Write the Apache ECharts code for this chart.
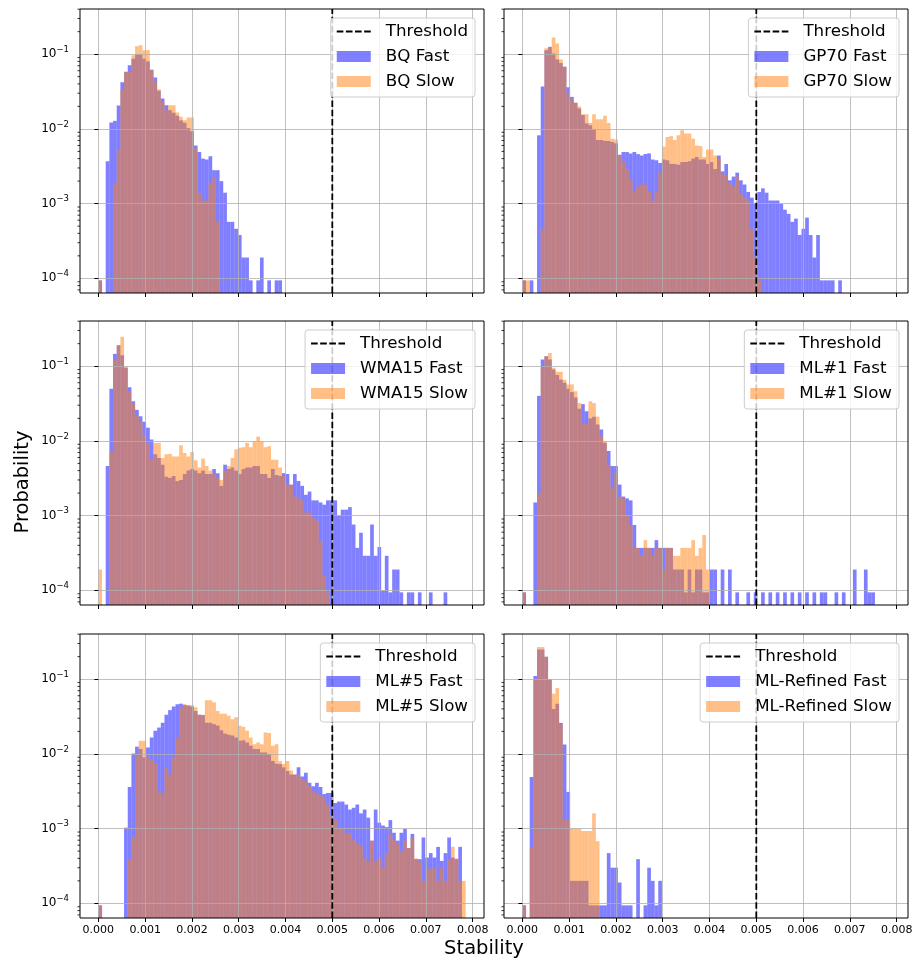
<!DOCTYPE html>
<html>
<head>
<meta charset="utf-8">
<script src="https://cdn.jsdelivr.net/npm/echarts@6/dist/echarts.min.js"></script>
<style>html,body{margin:0;padding:0;background:#fff}#chart{width:921px;height:960px}</style>
</head>
<body>
<div id="chart"></div>
<script>
// ---------- data (probability per bin, bins of width BIN_W starting at 0) ----------
const BIN_W = 0.0000785;
const THRESHOLD = 0.005;
const X_TICKS = [0, 0.001, 0.002, 0.003, 0.004, 0.005, 0.006, 0.007, 0.008];
const Y_TICKS = [1e-4, 1e-3, 1e-2, 1e-1];
const Y_MINOR = [7e-5,8e-5,9e-5,2e-4,3e-4,4e-4,5e-4,6e-4,7e-4,8e-4,9e-4,2e-3,3e-3,4e-3,5e-3,6e-3,7e-3,8e-3,9e-3,2e-2,3e-2,4e-2,5e-2,6e-2,7e-2,8e-2,9e-2,2e-1,3e-1,4e-1];
const PANEL_NAMES = ['BQ', 'GP70', 'WMA15', 'ML#1', 'ML#5', 'ML-Refined'];

const BQ_FAST = [9.4e-5,0,0.0037,0.0122,0.0128,0.0206,0.042,0.058,0.071,0.087,0.1,0.1,0.087,0.08,0.062,0.0487,0.0323,0.0255,0.0207,0.0178,0.0164,0.015,0.013,0.0121,0.0103,0.0093,0.006,0.0049,0.004,0.0039,0.0043,0.0028,0.0028,0.002,0.0014,0.00057,0.00057,0.00046,0.00038,0.00019,0.00019,9.4e-5,0,9.4e-5,0.00019,0,9.4e-5,0,9.4e-5,9.4e-5];
const BQ_SLOW = [9.4e-5,0,0,0,0.0019,0.0052,0.0336,0.058,0.058,0.097,0.128,0.132,0.113,0.113,0.062,0.0426,0.034,0.023,0.0178,0.0207,0.0207,0.0166,0.0145,0.013,0.0142,0.0142,0.0055,0.0014,0.0011,0.0011,0.0019,0.0022,0.00057];
const GP70_FAST = [9.4e-5,0,9.4e-5,0,0.0082,0.037,0.113,0.125,0.102,0.085,0.076,0.068,0.036,0.0268,0.0223,0.0187,0.0153,0.0118,0.0112,0.0098,0.0071,0.0071,0.0069,0.0069,0.0067,0.0064,0.0045,0.0049,0.0049,0.0047,0.0049,0.0046,0.0044,0.0046,0.0047,0.0039,0.0038,0.0035,0.0039,0.0038,0.0034,0.0034,0.0033,0.0036,0.0036,0.0037,0.004,0.0042,0.0039,0.0039,0.0034,0.0036,0.0029,0.0044,0.0027,0.0034,0.00205,0.0023,0.0026,0.00205,0.0018,0.00143,0.0012,0.001,0.00143,0.0016,0.0014,0.0011,0.0011,0.0011,0.00099,0.00083,0.00073,0.00057,0.00063,0.00038,0.00046,0.00065,0.00038,0.00019,0.00038,9.4e-5,9.4e-5,9.4e-5,9.4e-5,0,9.4e-5];
const GP70_SLOW = [9.4e-5,9.4e-5,0,0,0,0.00046,0.12,0.125,0.167,0.139,0.085,0.068,0.03,0.0247,0.0223,0.02,0.0157,0.0157,0.012,0.0157,0.0135,0.0135,0.015,0.012,0.0074,0.0072,0.0044,0.0036,0.0029,0.0021,0.00143,0.0017,0.0018,0.0018,0.00143,0.0011,0.00143,0.0026,0.0058,0.0078,0.008,0.0071,0.0082,0.0096,0.0087,0.0087,0.0074,0.006,0.0059,0.0042,0.0053,0.0053,0.0044,0.004,0.0025,0.0024,0.0019,0.0017,0.0023,0.00136,0.0012,0.0011,0.00046,0.00019,9.4e-5];
const WMA15_FAST = [0,0,0.0046,0.05,0.146,0.19,0.14,0.095,0.052,0.034,0.026,0.0214,0.018,0.015,0.0104,0.0066,0.0059,0.0048,0.0033,0.0032,0.0034,0.0029,0.003,0.0036,0.004,0.0042,0.004,0.0037,0.004,0.0036,0.0036,0.0042,0.0037,0.0025,0.0048,0.0042,0.0044,0.004,0.0036,0.0042,0.0044,0.0044,0.0046,0.0046,0.0036,0.0036,0.0032,0.0042,0.0035,0.0034,0.0037,0.0036,0.0026,0.0036,0.0029,0.0025,0.0019,0.0021,0.0016,0.0016,0.0015,0.0014,0.0016,0.0016,0.0016,0.001,0.0012,0.0012,0.0013,0.00076,0.00037,0.00059,0.00029,0.00029,0.00076,0.00029,0.00038,0.0001,0.00029,9.4e-5,0.00019,0.00019,9.4e-5,0,9.4e-5,9.4e-5,0,9.4e-5,0,0,9.4e-5,0,0,0,9.4e-5];
const WMA15_SLOW = [0.00019,0,0,0.0072,0.12,0.19,0.247,0.1,0.046,0.032,0.022,0.018,0.012,0.0094,0.0056,0.0094,0.0094,0.0059,0.0066,0.0067,0.0062,0.0062,0.0087,0.0069,0.0062,0.0071,0.0055,0.0044,0.0058,0.0046,0.004,0.0036,0.0032,0.003,0.004,0.0046,0.0059,0.0077,0.0081,0.0082,0.0094,0.0082,0.0099,0.0114,0.0099,0.0082,0.0085,0.0056,0.0056,0.0044,0.0034,0.0026,0.0025,0.0018,0.0017,0.0016,0.0011,0.0011,0.00093,0.00085,0.00046,0.00016,9.4e-5];
const ML1_FAST = [9.4e-5,0,0,0.0015,0.04,0.123,0.136,0.123,0.09,0.076,0.066,0.06,0.05,0.045,0.038,0.027,0.031,0.025,0.02,0.021,0.0166,0.0142,0.0094,0.0073,0.0046,0.0046,0.0026,0.0018,0.0017,0.0016,0.00075,0.00037,0.00037,0.00037,0.00037,0.00037,0.00047,0.00037,0.00037,0.00037,0.00037,0.00019,0.00019,0.00019,9.4e-5,0.00019,9.4e-5,0.00019,0.00019,9.4e-5,9.4e-5,0.00019,0.00019,0,0.00019,0,0.00019,0,9.4e-5,0,0,9.4e-5,0,9.4e-5,0,9.4e-5,0,9.4e-5,0,9.4e-5,0,9.4e-5,0,9.4e-5,0,9.4e-5,0,9.4e-5,0,9.4e-5,0,9.4e-5,9.4e-5,0,0,9.4e-5,0,9.4e-5,0,0,0.00019,0,0,0.00019,9.4e-5,9.4e-5];
const ML1_SLOW = [9.4e-5,0,0,0,0.002,0.095,0.136,0.15,0.095,0.084,0.084,0.066,0.057,0.057,0.046,0.032,0.017,0.017,0.034,0.032,0.021,0.012,0.0099,0.0048,0.0024,0.0036,0.0018,0.0017,0.001,0.00073,0.00037,0.00037,0.00029,0.00047,0.00037,0.00029,0.00037,0.00037,0.00019,0.00037,0.00037,0.00029,0.00029,0.00037,0.00037,0.00037,0.00047,0.00029,0.00037,0.00055,0.00019];
const ML5_FAST = [9.4e-5,0,0,0,0,0,0,0.00103,0.0036,0.0101,0.0125,0.0116,0.009,0.0122,0.0166,0.0204,0.0225,0.026,0.0333,0.0385,0.043,0.046,0.047,0.045,0.044,0.043,0.0376,0.0333,0.033,0.026,0.026,0.025,0.024,0.0207,0.0187,0.018,0.0176,0.0166,0.015,0.0152,0.0142,0.0128,0.0116,0.0116,0.0104,0.0104,0.0099,0.008,0.0074,0.0073,0.0066,0.0059,0.0053,0.0053,0.0066,0.005,0.0056,0.0041,0.0037,0.0041,0.0036,0.0029,0.003,0.003,0.0022,0.0023,0.0023,0.0021,0.0018,0.0019,0.0021,0.0016,0.0018,0.0014,0.00069,0.0018,0.0012,0.0011,0.00105,0.0013,0.00088,0.00069,0.00088,0.00099,0.00055,0.00085,0.00039,0.00039,0.00076,0.00041,0.00047,0.00041,0.00057,0.00037,0.00047,0.00076,0.00041,0.00039,0.00057];
const ML5_SLOW = [9.4e-5,0,0,0,0,0,0,0,0.00039,0.00076,0.0095,0.015,0.015,0.009,0.0085,0.0073,0.0032,0.0029,0.0066,0.0053,0.0089,0.0166,0.042,0.046,0.045,0.045,0.042,0.0333,0.0333,0.052,0.052,0.049,0.0376,0.0345,0.0345,0.0323,0.029,0.031,0.0237,0.023,0.0204,0.0166,0.0135,0.0142,0.0135,0.0193,0.019,0.0128,0.0135,0.008,0.0073,0.008,0.006,0.0051,0.0053,0.0046,0.0044,0.0037,0.0032,0.0029,0.0028,0.0026,0.0021,0.0015,0.0013,0.001,0.001,0.00086,0.00088,0.00071,0.00064,0.00058,0.0004,0.00037,0.00069,0.00037,0.0004,0.0003,0.00047,0.00085,0.00071,0.00064,0.0005,0.00069,0.00055,0.00076,0.0004,0.00037,0.0002,0.00029,0.00029,0.0003,0.0002,0.0003,0.0002,0.00039,0.00057,0.0004,0.0002,0.0002];
const MLR_FAST = [9.4e-5,0,0.0049,0.11,0.25,0.25,0.2,0.1,0.04,0.047,0.026,0.0134,0.0031,0.0002,0.0002,0.0002,0.0002,0.0002,9.4e-5,9.4e-5,9.4e-5,9.4e-5,9.4e-5,0.00047,0.0003,0.0003,0.00019,9.4e-5,9.4e-5,9.4e-5,0,0.00039,0,9.4e-5,0.0003,0.0002,9.4e-5,0.0002];
const MLR_SLOW = [9.4e-5,0,0.00056,0.1,0.27,0.27,0.2,0.1,0.064,0.076,0.025,0.0013,0.0013,0.001,0.001,0.001,0.00093,0.00093,0.00093,0.0016,0.00068];

const FAST_SETS = [BQ_FAST, GP70_FAST, WMA15_FAST, ML1_FAST, ML5_FAST, MLR_FAST];
const SLOW_SETS = [BQ_SLOW, GP70_SLOW, WMA15_SLOW, ML1_SLOW, ML5_SLOW, MLR_SLOW];

// ---------- layout & style ----------
const X_MIN = -0.0003925, X_MAX = 0.0082425;
const Y_MIN = Math.pow(10, -4.196), Y_MAX = Math.pow(10, -0.396);
const COL_LEFT = [80, 504];
const ROW_TOP = [9, 321, 634];
const GRID_W = 404, GRID_H = 284;
const LEGEND_RIGHT = [446, 22];
const FONT = 'DejaVu Sans';
const C_FAST = 'rgba(0,0,255,0.5)';
const C_SLOW = 'rgba(255,127,14,0.5)';
const DASH_ICON = 'path://M0,0h6.6v1.8h-6.6z M9.1,0h6.6v1.8h-6.6z M18.2,0h6.6v1.8h-6.6z M27.3,0h6.6v1.8h-6.6z';

function renderBar(params, api) {
  const x0 = api.value(0), x1 = api.value(1), v = api.value(2);
  const top = api.coord([x0, v]);
  const bot = api.coord([x1, Y_MIN]);
  return { type: 'rect', shape: { x: top[0], y: top[1], width: bot[0] - top[0], height: bot[1] - top[1] }, style: api.style() };
}
function renderMinor(params, api) {
  const p = api.coord([api.value(0), api.value(1)]);
  return { type: 'line', shape: { x1: p[0] - 2.5, y1: p[1], x2: p[0], y2: p[1] }, style: { stroke: '#000', lineWidth: 0.8 } };
}
function toBins(arr) {
  const out = [];
  arr.forEach((v, i) => { if (v > 0) out.push([i * BIN_W, (i + 1) * BIN_W, v]); });
  return out;
}
function xLabel(v) {
  const k = v / 0.001;
  return Math.abs(k - Math.round(k)) < 1e-6 ? (Math.round(k) * 0.001).toFixed(3) : '';
}
function yLabel(v) {
  const e = Math.log10(v), r = Math.round(e);
  if (Math.abs(e - r) > 1e-3) return '';
  return '{b|10}{s|' + (r < 0 ? '\u2212' : '') + Math.abs(r) + '}';
}

const grids = [], xAxes = [], yAxes = [], series = [], legends = [];
for (let p = 0; p < 6; p++) {
  const row = Math.floor(p / 2), col = p % 2;
  grids.push({ left: COL_LEFT[col], top: ROW_TOP[row], width: GRID_W, height: GRID_H,
    show: true, borderColor: '#000', borderWidth: 1, backgroundColor: 'transparent', z: 5 });
  xAxes.push({ type: 'value', gridIndex: p, min: X_MIN, max: X_MAX, splitNumber: 8, z: 3,
    axisLine: { show: false },
    axisTick: { show: true, length: 4, customValues: X_TICKS, lineStyle: { color: '#000', width: 1 } },
    axisLabel: { show: row === 2, customValues: X_TICKS, formatter: xLabel, fontSize: 11, fontFamily: FONT, color: '#000', margin: 7 },
    splitLine: { show: true, lineStyle: { color: '#b0b0b0', width: 0.8 } } });
  yAxes.push({ type: 'log', logBase: 10, gridIndex: p, min: Y_MIN, max: Y_MAX, z: 3,
    axisLine: { show: false },
    axisTick: { show: true, length: 4, customValues: Y_TICKS, lineStyle: { color: '#000', width: 1 } },
    axisLabel: { show: col === 0, customValues: Y_TICKS, formatter: yLabel, margin: 11, color: '#000',
      rich: { b: { fontSize: 12, fontFamily: FONT, color: '#000', lineHeight: 18 },
              s: { fontSize: 8.5, fontFamily: FONT, color: '#000', verticalAlign: 'top', lineHeight: 9 } } },
    splitLine: { show: true, lineStyle: { color: '#b0b0b0', width: 0.8 } } });
  const fastName = PANEL_NAMES[p] + ' Fast', slowName = PANEL_NAMES[p] + ' Slow';
  series.push({ type: 'custom', name: fastName, xAxisIndex: p, yAxisIndex: p, renderItem: renderBar,
    data: toBins(FAST_SETS[p]), encode: { x: [0, 1], y: 2 }, itemStyle: { color: C_FAST }, z: 2, clip: true, silent: true });
  series.push({ type: 'custom', name: slowName, xAxisIndex: p, yAxisIndex: p, renderItem: renderBar,
    data: toBins(SLOW_SETS[p]), encode: { x: [0, 1], y: 2 }, itemStyle: { color: C_SLOW }, z: 2, clip: true, silent: true });
  series.push({ type: 'line', name: 'Threshold', xAxisIndex: p, yAxisIndex: p,
    data: [[THRESHOLD, Y_MIN], [THRESHOLD, Y_MAX]], symbol: 'none', silent: true, z: 6,
    itemStyle: { color: '#000' },
    lineStyle: { color: '#000', width: 1.8, type: [6.5, 2.8] } });
  series.push({ type: 'custom', name: 'minor' + p, xAxisIndex: p, yAxisIndex: p, renderItem: renderMinor,
    data: Y_MINOR.map(v => [X_MIN, v]), encode: { x: 0, y: 1 }, clip: false, silent: true, z: 6 });
  legends.push({ orient: 'vertical', right: LEGEND_RIGHT[col], top: ROW_TOP[row] + 9,
    data: [{ name: 'Threshold', icon: DASH_ICON, itemStyle: { color: '#000' } },
           { name: fastName, icon: 'rect' }, { name: slowName, icon: 'rect' }],
    itemWidth: 34, itemHeight: 11, itemGap: 8, padding: [5, 7, 7, 6],
    backgroundColor: 'rgba(255,255,255,0.8)', borderColor: '#cccccc', borderWidth: 1, borderRadius: 3,
    textStyle: { fontSize: 16.7, fontFamily: FONT, color: '#000', padding: [0, 0, 0, 10] },
    selectedMode: false, z: 10 });
}

const chart = echarts.init(document.getElementById('chart'), null, { renderer: 'canvas' });
chart.setOption({
  animation: false,
  backgroundColor: '#fff',
  grid: grids, xAxis: xAxes, yAxis: yAxes, series: series, legend: legends,
  graphic: [
    { type: 'text', x: 484, y: 949, style: { text: 'Stability', fontSize: 19.5, fontFamily: FONT, fill: '#000', align: 'center', verticalAlign: 'middle' } },
    { type: 'text', x: 23, y: 482, rotation: Math.PI / 2, style: { text: 'Probability', fontSize: 19.5, fontFamily: FONT, fill: '#000', align: 'center', verticalAlign: 'middle' } }
  ]
});
</script>
</body>
</html>
